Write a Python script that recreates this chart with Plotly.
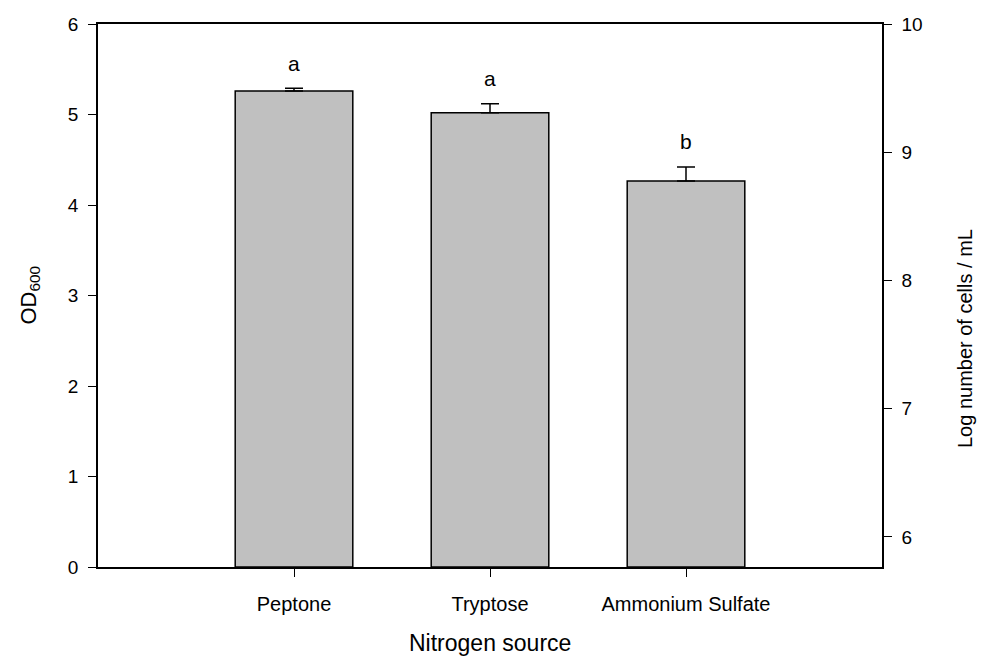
import plotly.graph_objects as go

# Growth on different nitrogen sources
categories = ["Peptone", "Tryptose", "Ammonium Sulfate"]
positions = [1, 2, 3]
od600 = [5.26, 5.02, 4.265]
od600_err = [0.03, 0.10, 0.155]
letters = ["a", "a", "b"]

left_ticks = [0, 1, 2, 3, 4, 5, 6]
right_ticks = [6, 7, 8, 9, 10]

FONT = "Liberation Sans, Arial, sans-serif"

fig = go.Figure()

fig.add_trace(go.Bar(
    x=positions,
    y=od600,
    width=0.6,
    marker=dict(color="#C0C0C0", line=dict(color="black", width=1.5)),
    error_y=dict(type="data", array=od600_err, arrayminus=[0] * len(od600_err),
                 symmetric=False, color="black", thickness=1.5, width=9),
    showlegend=False,
    hoverinfo="skip",
))

# empty trace so the secondary (cell count) axis is rendered
fig.add_trace(go.Scatter(x=[None], y=[None], yaxis="y2", showlegend=False,
                         hoverinfo="skip"))

for xp, v, e, t in zip(positions, od600, od600_err, letters):
    fig.add_annotation(x=xp, y=v + e, text=t, showarrow=False,
                       yanchor="middle", yshift=25,
                       font=dict(family=FONT, size=21, color="black"))

# axis titles placed as annotations
fig.add_annotation(xref="paper", yref="paper", x=-0.088, y=0.5,
                   text="OD<sub>600</sub>", textangle=-90, showarrow=False,
                   xanchor="center", yanchor="middle",
                   font=dict(family=FONT, size=22, color="black"))
fig.add_annotation(xref="paper", yref="paper", x=1.106, y=0.42,
                   text="Log number of cells / mL", textangle=-90, showarrow=False,
                   xanchor="center", yanchor="middle",
                   font=dict(family=FONT, size=20, color="black"))
fig.add_annotation(xref="paper", yref="paper", x=0.5, y=-0.14,
                   text="Nitrogen source", showarrow=False,
                   xanchor="center", yanchor="middle",
                   font=dict(family=FONT, size=23, color="black"))

fig.update_layout(
    width=981, height=659,
    margin=dict(l=98, r=99, t=24, b=92, autoexpand=False),
    plot_bgcolor="white", paper_bgcolor="white",
    font=dict(family=FONT, color="black"),
    xaxis=dict(
        range=[0, 4], tickvals=positions, ticktext=categories,
        ticks="outside", ticklen=8, tickwidth=1, tickcolor="black",
        showline=True, linecolor="black", linewidth=1.5, mirror=True,
        showgrid=False, zeroline=False, automargin=False,
        tickfont=dict(size=20), ticklabelstandoff=10,
    ),
    yaxis=dict(
        range=[0, 6], tickvals=left_ticks,
        ticks="outside", ticklen=8, tickwidth=1, tickcolor="black",
        showline=True, linecolor="black", linewidth=1.5,
        showgrid=False, zeroline=False, automargin=False,
        tickfont=dict(size=19), ticklabelstandoff=6,
    ),
    yaxis2=dict(
        overlaying="y", side="right",
        range=[5.766, 10], tickvals=right_ticks,
        ticks="outside", ticklen=8, tickwidth=1, tickcolor="black",
        showline=True, linecolor="black", linewidth=1.5,
        showgrid=False, zeroline=False, automargin=False,
        tickfont=dict(size=19), ticklabelstandoff=6,
    ),
)

fig.write_html("out.html")
